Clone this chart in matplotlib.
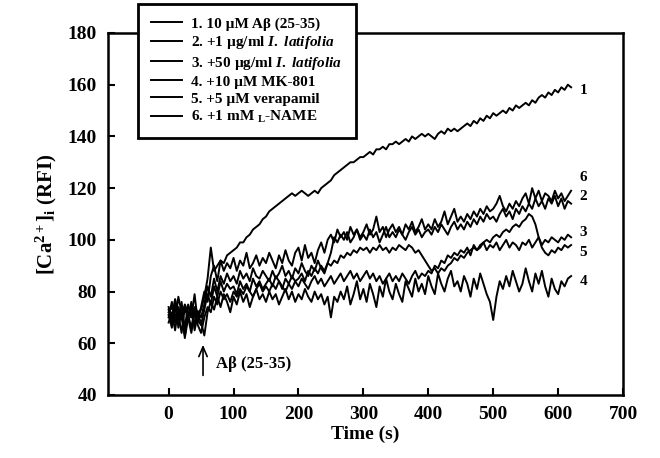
import numpy as np
import matplotlib
matplotlib.use("Agg")
from matplotlib import pyplot as plt

plt.rcParams['font.family'] = ['Liberation Serif', 'DejaVu Serif']
plt.rcParams['font.weight'] = 'bold'
plt.rcParams['mathtext.fontset'] = 'custom'
plt.rcParams['mathtext.rm'] = 'Liberation Serif:bold'
plt.rcParams['mathtext.bf'] = 'Liberation Serif:bold'
plt.rcParams['mathtext.it'] = 'Liberation Serif:italic:bold'

# sampling every 5 s, 0 .. 620 s
time_s = np.arange(0, 625, 5)

ab_alone = [
    72, 74, 70, 73, 71, 75, 72, 70, 74, 72,
    73, 78, 85, 97, 88, 90, 92, 91, 94, 95,
    96, 97, 99, 99, 101, 102, 104, 105, 106, 108,
    109, 111, 112, 113, 114, 115, 116, 117, 118, 117,
    118, 119, 118, 117, 118, 119, 118, 120, 121, 122,
    123, 125, 126, 127, 128, 129, 130, 130, 131, 132,
    132, 133, 134, 133, 135, 135, 136, 135, 137, 137,
    138, 137, 138, 139, 138, 140, 139, 140, 141, 140,
    141, 140, 139, 141, 142, 141, 143, 142, 143, 142,
    143, 144, 145, 144, 146, 145, 147, 146, 148, 147,
    149, 148, 149, 150, 149, 151, 150, 152, 151, 152,
    153, 152, 154, 153, 155, 156, 155, 157, 156, 158,
    157, 159, 158, 160, 159,
]

latifolia_1 = [
    73, 68, 77, 71, 64, 74, 69, 76, 67, 72,
    70, 75, 82, 78, 85, 80, 86, 83, 87, 84,
    86, 83, 88, 85, 87, 84, 89, 86, 85, 88,
    86, 84, 88, 85, 87, 90, 86, 88, 85, 89,
    87, 91, 88, 86, 90, 88, 92, 89, 87, 91,
    95, 101, 99, 102, 100, 103, 99, 101, 104, 100,
    102, 100, 104, 101, 103, 99, 102, 105, 101, 103,
    101, 104, 102, 100, 103, 105, 102, 104, 101, 103,
    104, 102, 105, 103, 106, 104, 102, 105, 107, 104,
    106, 104, 107, 105, 108, 106, 109, 107, 110, 108,
    109, 107, 110, 112, 109, 111, 108, 112, 110, 113,
    111, 114, 112, 116, 113, 115, 112, 116, 114, 117,
    113, 116, 112, 115, 114,
]

latifolia_50 = [
    71, 66, 74, 69, 76, 65, 70, 64, 72, 67,
    64, 70, 74, 72, 78, 75, 80, 77, 79, 76,
    80, 78, 81, 79, 82, 80, 78, 81, 83, 80,
    82, 80, 83, 81, 84, 82, 80, 83, 81, 84,
    82, 85, 83, 81, 84, 86, 83, 85, 82, 84,
    86, 83, 85, 87, 84, 86, 88, 85, 87, 84,
    86, 88, 85, 87, 84, 86, 83, 85, 87, 84,
    86, 84, 87, 85, 83, 86, 88, 85, 87, 86,
    88, 87, 90, 89, 92, 91, 94, 93, 95, 94,
    96, 95, 97, 94, 98, 96, 97, 99, 96, 98,
    97, 99, 96, 98, 100, 97, 99, 98, 96, 99,
    98, 100, 97, 99, 101, 98, 100, 99, 101, 100,
    99, 101, 100, 102, 101,
]

mk801 = [
    74, 69, 77, 66, 72, 62, 70, 75, 65, 71,
    68, 63, 72, 76, 73, 78, 74, 79, 76, 72,
    78, 75, 80, 76, 79, 74, 78, 81, 77, 79,
    76, 80, 77, 79, 75, 78, 81, 77, 80, 76,
    79, 77, 81, 78, 76, 80, 77, 79, 75, 78,
    70, 78, 76, 80, 77, 82, 75, 79, 84, 77,
    81, 76, 83, 79, 74, 82, 78, 85, 80, 77,
    83, 79, 76, 84, 81, 78, 85, 80, 83, 79,
    86, 82, 79, 87, 83, 80, 85, 88, 82, 84,
    80, 86, 83, 78, 85, 81, 87, 83, 79, 76,
    69, 78, 84, 81, 86, 82, 88, 84, 80, 83,
    89, 84, 80, 87, 83, 88, 82, 78, 85, 81,
    79, 84, 82, 85, 86,
]

verapamil = [
    68, 72, 65, 74, 70, 63, 71, 66, 73, 69,
    67, 73, 79, 75, 82, 78, 84, 80, 83, 81,
    82, 79, 84, 81, 83, 80, 85, 82, 84, 81,
    83, 85, 82, 86, 84, 81, 85, 83, 86, 84,
    85, 87, 84, 88, 86, 89, 87, 90, 88, 91,
    90, 92, 91, 94, 93, 95, 94, 96, 95, 97,
    96, 97, 95, 97, 96, 98, 96, 97, 95, 97,
    96, 98, 97, 96, 98, 97, 95, 96, 94, 92,
    90, 88, 89, 87, 89, 88, 90, 91, 93, 92,
    94, 93, 95, 96, 97, 96, 98, 99, 100, 99,
    101, 102, 101, 103, 104, 103, 105, 106, 105, 107,
    108, 110, 109, 106, 101, 97, 95, 94, 96, 95,
    97, 96, 98, 97, 98,
]

l_name = [
    70, 76, 68, 78, 72, 66, 75, 70, 79, 68,
    74, 80, 76, 86, 90, 84, 92, 88, 91, 89,
    93, 88, 92, 90, 95, 89, 91, 94, 90, 93,
    91, 95, 92, 89, 94, 91, 96, 92, 90, 95,
    97, 92, 98, 93, 95, 91, 96, 99, 95, 100,
    102, 99, 104, 101, 103, 100, 105, 102, 104, 101,
    103, 106, 102, 104, 109, 103, 105, 101, 104, 106,
    103, 105, 102, 106, 104, 107, 103, 105, 108, 104,
    106, 104, 108, 105, 107, 111, 106, 109, 112, 107,
    109, 107, 110, 108, 111, 109, 112, 110, 113, 111,
    112, 114, 117, 113, 111, 114, 112, 115, 113, 116,
    118, 114, 120, 116, 119, 115, 118, 117, 115, 119,
    116, 118, 115, 117, 119,
]

series = [ab_alone, latifolia_1, latifolia_50, mk801, verapamil, l_name]
legend_labels = [
    '1. 10 µM Aβ (25-35)',
    r'2. +1 µg/ml $\mathit{I.\ latifolia}$',
    r'3. +50 µg/ml $\mathit{I.\ latifolia}$',
    '4. +10 µM MK-801',
    '5. +5 µM verapamil',
    r'6. +1 mM $_{\mathrm{L}}$-NAME',
]
end_labels = ['1', '2', '3', '4', '5', '6']
end_label_y = [157.6, 116.6, 103, 84, 95, 124.3]

fig = plt.figure(figsize=(6.6, 4.58), dpi=100)
ax = fig.add_axes([0.164, 0.1376, 0.78, 0.7904])

handles = []
for vals, lab in zip(series, legend_labels):
    h, = ax.plot(time_s, vals, color='black', lw=1.4)
    handles.append(h)

for lab, yv in zip(end_labels, end_label_y):
    ax.text(639, yv, lab, fontsize=11, fontweight='bold', ha='center', va='center')

ax.annotate('', xy=(53, 60.5), xytext=(53, 46.5),
            arrowprops=dict(arrowstyle='->,head_length=0.7,head_width=0.3',
                            lw=1.2, color='black'))
ax.text(73, 52, 'Aβ (25-35)', fontsize=12, fontweight='bold', va='center')

ax.set_xlim(-93, 700)
ax.set_ylim(40, 180)
ax.set_xticks(np.arange(0, 701, 100))
ax.set_yticks(np.arange(40, 181, 20))
ax.tick_params(direction='in', length=5, width=1.5, labelsize=14, pad=8)
for sp in ax.spines.values():
    sp.set_linewidth(1.8)

ax.set_xlabel('Time (s)', fontsize=14, fontweight='bold', labelpad=2)
ax.set_ylabel(r'[Ca$^{2+}$]$_{\mathrm{i}}$ (RFI)', fontsize=15, fontweight='bold', labelpad=6)

leg = fig.legend(handles, legend_labels, loc='upper left',
                 bbox_to_anchor=(138 / 660, 1 - 4 / 458), borderaxespad=0,
                 prop={'size': 11, 'weight': 'bold'}, handlelength=2.0,
                 handletextpad=0.65, borderpad=0.85, labelspacing=0.22,
                 fancybox=False, framealpha=1, edgecolor='black')
leg.get_frame().set_linewidth(2)

fig.savefig('out.png', dpi=100)
